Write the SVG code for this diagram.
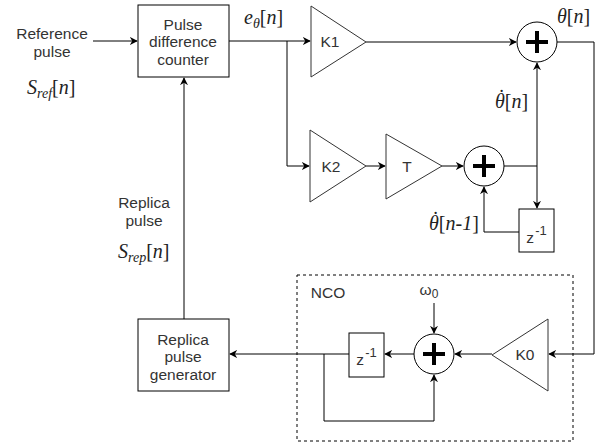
<svg xmlns="http://www.w3.org/2000/svg" width="599" height="445" viewBox="0 0 599 445">
<defs>
<marker id="arr" viewBox="0 0 10 10" refX="9" refY="5" markerWidth="8" markerHeight="8" markerUnits="userSpaceOnUse" orient="auto">
<path d="M0,0 L10,5 L0,10 L3,5 Z" fill="#000"/>
</marker>
<style>
.box{fill:#fff;stroke:#000;stroke-width:1}
.tri{fill:#fff;stroke:#333;stroke-width:1}
.sum{fill:#fff;stroke:#000;stroke-width:1}
.plus{stroke:#000;stroke-width:4}
.lbl{font-family:"Liberation Sans",Arial,sans-serif;font-size:15.5px;fill:#333;text-anchor:middle}
.math{font-family:"Liberation Serif","Times New Roman",serif;font-style:italic;font-size:20px;fill:#222}
.up{font-style:normal}
.sub{font-size:14px}
.edge{fill:none;stroke:#000;stroke-width:1}
.dash{fill:none;stroke:#000;stroke-width:1;stroke-dasharray:3,3}
</style>
</defs>
<rect width="599" height="445" fill="#fff"/>

<g id="nco-frame">
<rect class="dash" x="297" y="275" width="276" height="166"/>
<text class="lbl" x="328" y="298">NCO</text>
</g>

<g id="connectors">
<path class="edge" d="M93,41 H137" marker-end="url(#arr)"/>
<path class="edge" d="M229,41 H310" marker-end="url(#arr)"/>
<path class="edge" d="M287,41 V166 H309" marker-end="url(#arr)"/>
<path class="edge" d="M366,42 H516" marker-end="url(#arr)"/>
<path class="edge" d="M366,166 H385" marker-end="url(#arr)"/>
<path class="edge" d="M442,166 H463" marker-end="url(#arr)"/>
<path class="edge" d="M504,166 H537 V63" marker-end="url(#arr)"/>
<path class="edge" d="M537,166 V208" marker-end="url(#arr)"/>
<path class="edge" d="M519,232 H484 V187" marker-end="url(#arr)"/>
<path class="edge" d="M557,42 H594 V354 H549" marker-end="url(#arr)"/>
<path class="edge" d="M492,354 H455" marker-end="url(#arr)"/>
<path class="edge" d="M414,354 H385" marker-end="url(#arr)"/>
<path class="edge" d="M349,354 H230" marker-end="url(#arr)"/>
<path class="edge" d="M324,354 V421 H434 V375" marker-end="url(#arr)"/>
<path class="edge" d="M434,303 V333" marker-end="url(#arr)"/>
<path class="edge" d="M184,319 V78" marker-end="url(#arr)" stroke="#444" stroke-width="1.3"/>
</g>

<g id="reference-pulse">
<text class="lbl" x="52" y="39">Reference</text>
<text class="lbl" x="52" y="57">pulse</text>
<text class="math" x="27" y="94">S<tspan class="sub" dy="4">ref</tspan><tspan class="up" dy="-4">[</tspan>n<tspan class="up">]</tspan></text>
</g>

<g id="pulse-difference-counter">
<rect class="box" x="138" y="5" width="91" height="72"/>
<text class="lbl" x="183" y="30">Pulse</text>
<text class="lbl" x="183" y="47">difference</text>
<text class="lbl" x="183" y="65">counter</text>
</g>

<g id="e-theta-label">
<text class="math" x="244" y="24">e<tspan class="sub" dy="4">θ</tspan><tspan class="up" dy="-4">[</tspan>n<tspan class="up">]</tspan></text>
</g>

<g id="k1">
<polygon class="tri" points="311,6 311,77 366,42"/>
<text class="lbl" x="330" y="47">K1</text>
</g>

<g id="sum1">
<circle class="sum" cx="537" cy="42" r="20"/>
<path class="plus" d="M526,42 H548 M537,31 V53"/>
</g>
<g id="theta-label">
<text class="math" x="557" y="23">θ<tspan class="up">[</tspan>n<tspan class="up">]</tspan></text>
</g>
<g id="theta-dot-label">
<text class="math" x="495" y="108">θ<tspan class="up" dx="-6.5" dy="-4">˙</tspan><tspan class="up" dx="-0.2" dy="4">[</tspan>n<tspan class="up">]</tspan></text>
</g>

<g id="k2">
<polygon class="tri" points="310,130 310,202 366,166"/>
<text class="lbl" x="331" y="172">K2</text>
</g>

<g id="t-gain">
<polygon class="tri" points="386,134 386,199 442,166"/>
<text class="lbl" x="407" y="172">T</text>
</g>

<g id="sum2">
<circle class="sum" cx="484" cy="166" r="20"/>
<path class="plus" d="M473,166 H495 M484,155 V177"/>
</g>

<g id="delay1">
<rect class="box" x="519" y="209" width="35" height="43"/>
<text class="lbl" x="530" y="243">z</text>
<text class="lbl" x="541" y="235" style="font-size:13px">-1</text>
</g>
<g id="theta-dot-prev-label">
<text class="math" x="429" y="230">θ<tspan class="up" dx="-6.5" dy="-4">˙</tspan><tspan class="up" dx="-0.2" dy="4">[</tspan>n-1<tspan class="up">]</tspan></text>
</g>

<g id="k0">
<polygon class="tri" points="548,319 548,391 492,355"/>
<text class="lbl" x="525" y="360">K0</text>
</g>

<g id="sum3">
<circle class="sum" cx="434" cy="354" r="20"/>
<path class="plus" d="M423,354 H445 M434,343 V365"/>
</g>
<g id="omega0">
<text class="lbl" x="429" y="295">ω<tspan style="font-size:12px" dy="3">0</tspan></text>
</g>

<g id="delay2">
<rect class="box" x="349" y="333" width="35" height="44"/>
<text class="lbl" x="360" y="365">z</text>
<text class="lbl" x="371" y="357" style="font-size:13px">-1</text>
</g>

<g id="replica-pulse-generator">
<rect class="box" x="138" y="319" width="91" height="72"/>
<text class="lbl" x="183" y="345">Replica</text>
<text class="lbl" x="183" y="362">pulse</text>
<text class="lbl" x="183" y="380">generator</text>
</g>

<g id="replica-pulse-label">
<text class="lbl" x="144" y="208">Replica</text>
<text class="lbl" x="144" y="226">pulse</text>
<text class="math" x="118" y="258">S<tspan class="sub" dy="4">rep</tspan><tspan class="up" dy="-4">[</tspan>n<tspan class="up">]</tspan></text>
</g>
</svg>
